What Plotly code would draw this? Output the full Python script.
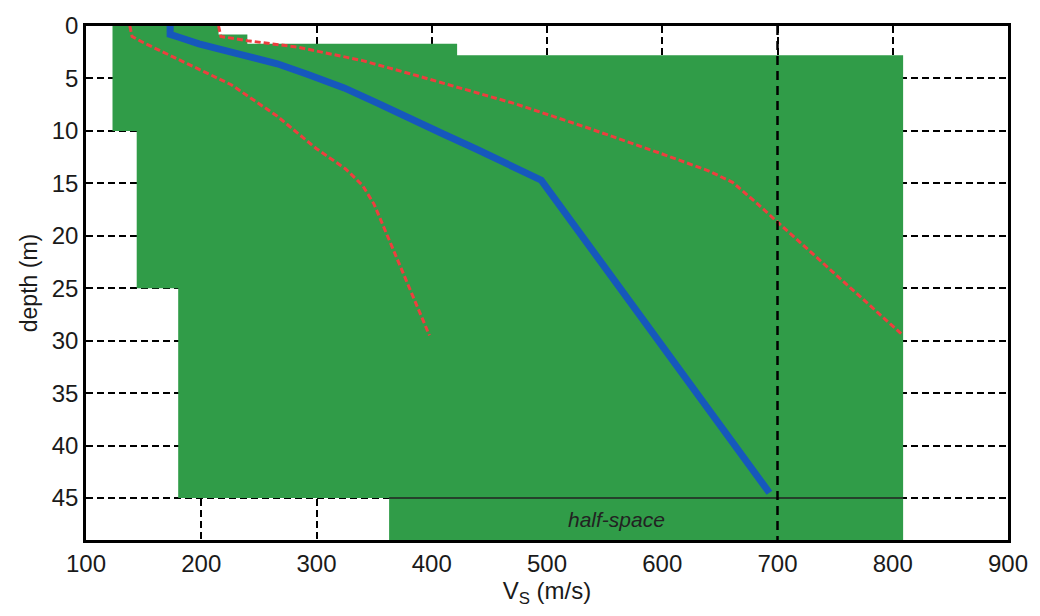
import plotly.graph_objects as go

# ---------------- data ----------------
# search-space bounds (stepped): layer top depths and velocities
min_bound_tops = [0, 10, 25, 45]
min_bound_vs = [123, 144, 180, 363]
max_bound_tops = [0, 0.8, 1.7, 2.8]
max_bound_vs = [215, 240, 422, 809]
bottom_depth = 49
halfspace_depth = 45

# best-fit profile (blue)
best_vs = [173, 173, 180, 198, 232, 266, 292, 324, 352, 380, 410, 438, 468, 495, 693]
best_depth = [0, 0.8, 1.05, 1.7, 2.65, 3.6, 4.6, 5.9, 7.3, 8.8, 10.3, 11.7, 13.2, 14.7, 44.5]

# lower envelope (red dashed, left)
low_vs = [138, 140, 150, 190, 226, 266, 300, 325, 340, 350, 398]
low_depth = [0, 1.0, 1.6, 3.7, 5.6, 8.6, 11.7, 13.6, 15.2, 17.0, 29.5]

# upper envelope (red dashed, right)
up_vs = [215, 217, 240, 283, 340, 386, 472, 535, 600, 640, 661, 680, 808]
up_depth = [0, 1.0, 1.4, 2.0, 3.3, 4.7, 7.4, 9.7, 12.2, 13.8, 14.9, 16.7, 29.4]

ref_vs = 700
label_text = "half-space"
label_vs = 560
label_depth = 47

x_ticks = [100, 200, 300, 400, 500, 600, 700, 800, 900]
y_ticks = [0, 5, 10, 15, 20, 25, 30, 35, 40, 45]

# ---------------- build search-space polygon ----------------
def steps(tops, vals, bottom):
    xs, ys = [], []
    edges = tops[1:] + [bottom]
    for t, b, v in zip(tops, edges, vals):
        xs += [v, v]
        ys += [t, b]
    return xs, ys

lx, ly = steps(min_bound_tops, min_bound_vs, bottom_depth)
rx, ry = steps(max_bound_tops, max_bound_vs, bottom_depth)
poly_x = lx + rx[::-1] + [lx[0]]
poly_y = ly + ry[::-1] + [ly[0]]

GREEN = "rgb(48,156,72)"
BLUE = "rgb(22,88,188)"
RED = "rgb(238,62,62)"
FONT = "Liberation Sans, Arial, sans-serif"

fig = go.Figure()
fig.add_trace(go.Scatter(x=poly_x, y=poly_y, mode="lines", fill="toself",
                         fillcolor=GREEN, line=dict(width=0), hoverinfo="skip"))
fig.add_trace(go.Scatter(x=[min_bound_vs[-1], max_bound_vs[-1]],
                         y=[halfspace_depth, halfspace_depth], mode="lines",
                         line=dict(color="#222", width=1.5)))
fig.add_trace(go.Scatter(x=low_vs, y=low_depth, mode="lines",
                         line=dict(color=RED, width=3, dash="6px,3px")))
fig.add_trace(go.Scatter(x=up_vs, y=up_depth, mode="lines",
                         line=dict(color=RED, width=3, dash="6px,3px")))
fig.add_trace(go.Scatter(x=best_vs, y=best_depth, mode="lines",
                         line=dict(color=BLUE, width=7)))
fig.add_trace(go.Scatter(x=[ref_vs, ref_vs], y=[0, bottom_depth], mode="lines",
                         line=dict(color="black", width=2.5, dash="9px,6px")))

fig.add_annotation(x=label_vs, y=label_depth, text=label_text, showarrow=False,
                   font=dict(family=FONT, size=21, color="#222", style="italic"))

fig.update_layout(
    width=1040, height=616,
    margin=dict(l=86, r=21, t=22, b=76),
    paper_bgcolor="white", plot_bgcolor="white",
    showlegend=False,
    font=dict(family=FONT, size=24, color="#1a1a1a"),
)
fig.update_xaxes(range=[100, 900], tickvals=x_ticks, ticktext=[str(v) for v in x_ticks],
                 showgrid=True, gridcolor="black", gridwidth=2, griddash="7px,4px",
                 showline=True, linecolor="black", linewidth=2.5, mirror=True,
                 ticks="", zeroline=False,
                 title=dict(text="V<sub>S</sub> (m/s)", font=dict(size=24), standoff=2))
fig.update_yaxes(range=[bottom_depth, 0], tickvals=y_ticks,
                 showgrid=True, gridcolor="black", gridwidth=2, griddash="7px,4px",
                 showline=True, linecolor="black", linewidth=2.5, mirror=True,
                 ticks="", zeroline=False,
                 title=dict(text="depth (m)", font=dict(size=23), standoff=8))

fig.write_html("out.html")
